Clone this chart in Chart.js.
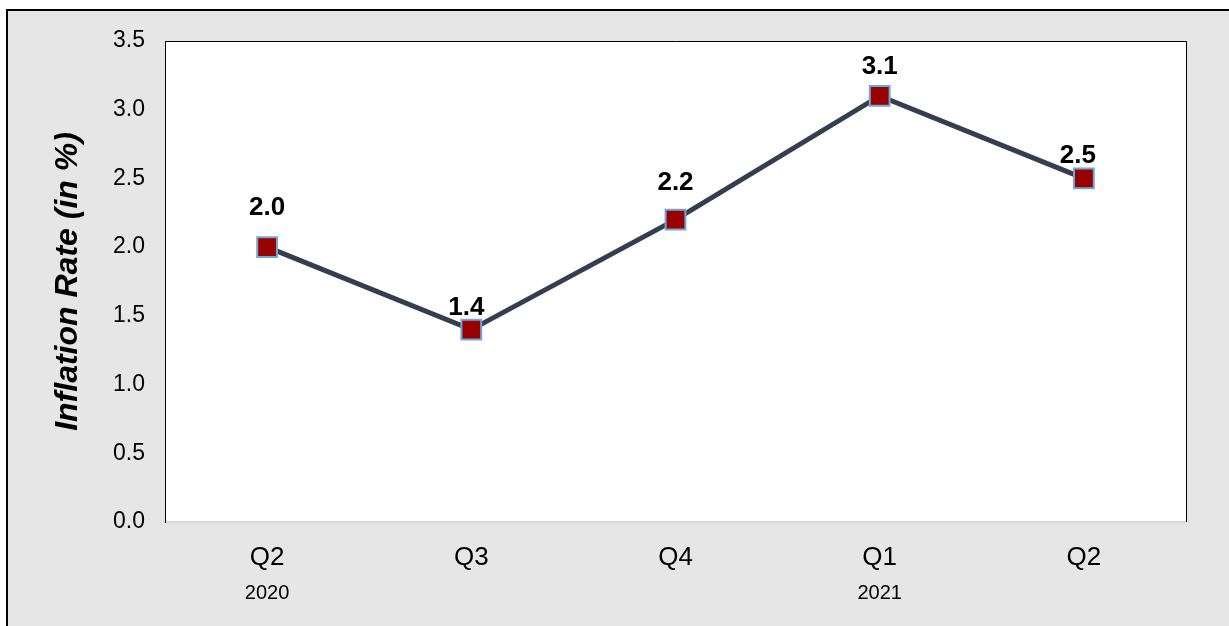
<!DOCTYPE html>
<html>
<head>
<meta charset="utf-8">
<script src="https://cdn.jsdelivr.net/npm/chart.js@4.4.1/dist/chart.umd.min.js"></script>
<style>
    html, body { margin: 0; padding: 0; background: #ffffff; }
    #wrap {
        position: absolute;
        left: 0; top: 0;
        width: 1229px; height: 626px;
        overflow: hidden;
    }
    #frame {
        position: absolute;
        left: 6px; top: 9px;
        width: 1240px; height: 640px;
        border: 2px solid #000000;
        background: #e6e6e6;
    }
    canvas { position: absolute; left: 0; top: 0; }
</style>
</head>
<body>
<div id="wrap">
    <div id="frame"></div>
    <canvas id="chart" width="1229" height="626"></canvas>
</div>
<script>
// Quarterly inflation values
const quarters = ['Q2', 'Q3', 'Q4', 'Q1', 'Q2'];
const years = ['2020', '', '', '2021', ''];
const inflation = [2.0, 1.4, 2.2, 3.1, 2.5];
const yTicks = [0.0, 0.5, 1.0, 1.5, 2.0, 2.5, 3.0, 3.5];

const FONT = "'Liberation Sans', Arial, sans-serif";

// Extra drawing: plot frame, year row, value labels, rotated y title
const extrasPlugin = {
    id: 'extras',
    afterDraw(chart) {
        const ctx = chart.ctx;
        const area = chart.chartArea;
        const xScale = chart.scales.x;
        const yScale = chart.scales.y;

        ctx.save();
        // top and right edges of the plot box
        ctx.strokeStyle = '#000000';
        ctx.lineWidth = 1;
        ctx.beginPath();
        ctx.moveTo(area.left, area.top + 0.5);
        ctx.lineTo(area.right + 0.5, area.top + 0.5);
        ctx.lineTo(area.right + 0.5, area.bottom);
        ctx.stroke();

        // year labels under the quarters
        ctx.fillStyle = '#000000';
        ctx.font = '20px ' + FONT;
        ctx.textAlign = 'center';
        ctx.textBaseline = 'middle';
        years.forEach((yr, i) => {
            if (yr) ctx.fillText(yr, xScale.getPixelForValue(i), 593);
        });

        // value labels above points
        const lift = [39, 22, 37, 29, 23];
        const shift = [0, -5, 0, 0, -6];
        ctx.font = 'bold 26px ' + FONT;
        inflation.forEach((v, i) => {
            const px = xScale.getPixelForValue(i) + shift[i];
            const py = yScale.getPixelForValue(v) - lift[i];
            ctx.fillText(v.toFixed(1), px, py);
        });

        // y axis title
        ctx.translate(68, (area.top + area.bottom) / 2);
        ctx.rotate(-Math.PI / 2);
        ctx.font = 'italic bold 32px ' + FONT;
        ctx.fillText('Inflation Rate (in %)', 0, 0);
        ctx.restore();
    }
};

const plotBgPlugin = {
    id: 'plotBg',
    beforeDraw(chart) {
        const a = chart.chartArea;
        chart.ctx.save();
        chart.ctx.fillStyle = '#ffffff';
        chart.ctx.fillRect(a.left, a.top, a.right - a.left, a.bottom - a.top);
        chart.ctx.restore();
    }
};

new Chart(document.getElementById('chart'), {
    type: 'line',
    data: {
        labels: quarters,
        datasets: [{
            data: inflation,
            borderColor: '#333f50',
            borderWidth: 5,
            pointStyle: 'rect',
            pointRadius: 14,
            pointHoverRadius: 14,
            pointBackgroundColor: '#990000',
            pointBorderColor: '#6fa8dc',
            pointBorderWidth: 2,
            tension: 0
        }]
    },
    options: {
        responsive: false,
        animation: false,
        layout: { padding: { left: 0, right: 43, top: 41, bottom: 0 } },
        plugins: {
            legend: { display: false },
            tooltip: { enabled: false }
        },
        scales: {
            x: {
                offset: true,
                grid: { display: false, drawTicks: false },
                border: { display: true, color: '#d9d9d9', width: 2 },
                ticks: {
                    color: '#000000',
                    padding: 20,
                    font: { family: FONT, size: 26 }
                },
                afterFit(scale) { scale.height = 104; }
            },
            y: {
                min: 0,
                max: 3.5,
                grid: { display: false, drawTicks: false },
                border: { display: true, color: '#000000', width: 1 },
                afterBuildTicks(scale) {
                    scale.ticks = yTicks.map(v => ({ value: v }));
                },
                ticks: {
                    color: '#000000',
                    padding: 20,
                    font: { family: FONT, size: 23 },
                    callback: v => Number(v).toFixed(1)
                },
                afterFit(scale) { scale.width = 165; }
            }
        }
    },
    plugins: [plotBgPlugin, extrasPlugin]
});
</script>
</body>
</html>
